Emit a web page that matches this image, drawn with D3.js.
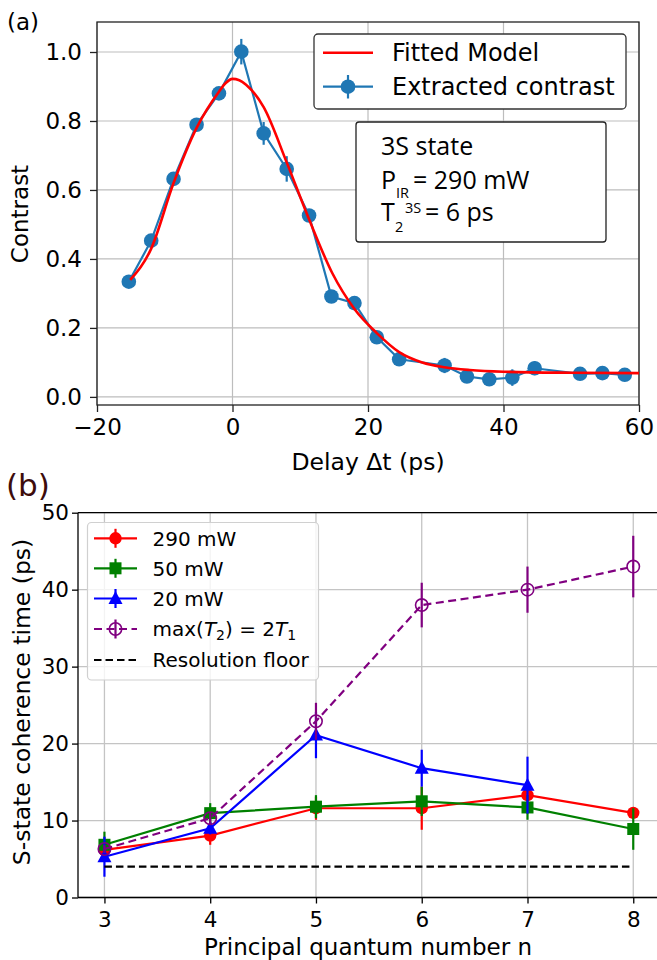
<!DOCTYPE html>
<html><head><meta charset="utf-8">
<script src="https://cdn.jsdelivr.net/npm/d3@7"></script>
<style>
body{margin:0;background:#fff}
svg{display:block;font-family:"DejaVu Sans",sans-serif}
text{fill:#000}
</style>
</head><body>
<svg id="chart" width="657" height="960"></svg>
<script>
// ---------- Panel (a) data ----------
const delayPs = [-15.3, -12.0, -8.7, -5.3, -2.0, 1.3, 4.6, 8.0, 11.3, 14.6, 18.0, 21.3, 24.6, 31.3, 34.6, 37.9, 41.3, 44.6, 51.3, 54.6, 57.9];
const contrast = [0.334, 0.453, 0.632, 0.789, 0.880, 1.001, 0.764, 0.661, 0.526, 0.291, 0.272, 0.173, 0.109, 0.091, 0.059, 0.051, 0.056, 0.083, 0.067, 0.069, 0.064];
const contrastErr = [0.010, 0.012, 0.012, 0.015, 0.015, 0.037, 0.033, 0.037, 0.015, 0.012, 0.012, 0.018, 0.012, 0.022, 0.012, 0.012, 0.024, 0.020, 0.015, 0.020, 0.018];
const fitDelay = [-15.1, -12.0, -8.7, -5.3, -2.0, -1.0, 0.0, 1.0, 2.0, 4.6, 8.0, 11.3, 14.7, 18.0, 21.3, 24.6, 28.0, 31.3, 35.0, 40.0, 50.0, 60.0];
const fitContrast = [0.339, 0.43, 0.62, 0.78, 0.885, 0.91, 0.922, 0.918, 0.905, 0.84, 0.68, 0.515, 0.36, 0.255, 0.185, 0.13, 0.10, 0.086, 0.078, 0.073, 0.070, 0.069];
const delayTicks = [-20, 0, 20, 40, 60];
const contrastTicks = [0.0, 0.2, 0.4, 0.6, 0.8, 1.0];

// ---------- Panel (b) data ----------
const nValues = [3, 4, 5, 6, 7, 8];
const t290 = [6.2, 8.05, 11.6, 11.6, 13.3, 11.0];
const t290Err = [0.6, 1.2, 1.5, 2.8, 0.7, 0.5];
const t50 = [6.85, 10.96, 11.8, 12.5, 11.7, 8.9];
const t50Err = [1.7, 1.3, 1.5, 1.9, 1.6, 2.7];
const nValues20 = [3, 4, 5, 6, 7];
const t20 = [5.3, 9.0, 21.1, 16.8, 14.6];
const t20Err = [2.6, 0.8, 3.0, 2.4, 3.7];
const tMax = [6.3, 10.3, 22.9, 38.0, 40.0, 43.0];
const tMaxErr = [0.5, 0.8, 2.4, 2.9, 3.0, 4.0];
const floorN = [3, 8];
const floorT = [4, 4];
const nTicks = [3, 4, 5, 6, 7, 8];
const timeTicks = [0, 10, 20, 30, 40, 50];

const svg = d3.select("#chart");

// ================= Panel (a) =================
const xa = d3.scaleLinear().domain([-20, 60]).range([97, 639]);
const ya = d3.scaleLinear().domain([-0.0235, 1.087]).range([405, 22]);
const ga = svg.append("g");

ga.selectAll(".gx").data(delayTicks).join("line")
  .attr("x1", d => xa(d)).attr("x2", d => xa(d)).attr("y1", 22).attr("y2", 405)
  .attr("stroke", "#bdbdbd").attr("stroke-width", 1.2);
ga.selectAll(".gy").data(contrastTicks).join("line")
  .attr("y1", d => ya(d)).attr("y2", d => ya(d)).attr("x1", 97).attr("x2", 639)
  .attr("stroke", "#bdbdbd").attr("stroke-width", 1.2);

const axA = ga.append("g").attr("transform", "translate(0,405)")
  .call(d3.axisBottom(xa).tickValues(delayTicks).tickSize(7).tickPadding(6).tickFormat(d3.format("d")));
const ayA = ga.append("g").attr("transform", "translate(97,0)")
  .call(d3.axisLeft(ya).tickValues(contrastTicks).tickSize(7).tickPadding(8).tickFormat(d3.format(".1f")));
[axA, ayA].forEach(a => {
  a.select(".domain").remove();
  a.selectAll("line").attr("stroke", "#222").attr("stroke-width", 1.3);
  a.selectAll("text").attr("font-size", 23).attr("font-family", "DejaVu Sans").attr("fill", "#000");
});
axA.selectAll("text").attr("dy", "0.75em");
ga.append("rect").attr("x", 97).attr("y", 22).attr("width", 542).attr("height", 383)
  .attr("fill", "none").attr("stroke", "#222").attr("stroke-width", 1.3);

const blue = "#1f77b4";
ga.append("path").datum(delayPs.map((d, i) => [d, contrast[i]]))
  .attr("d", d3.line().x(d => xa(d[0])).y(d => ya(d[1])))
  .attr("fill", "none").attr("stroke", blue).attr("stroke-width", 2.2);
ga.selectAll(".eb").data(delayPs).join("line")
  .attr("x1", d => xa(d)).attr("x2", d => xa(d))
  .attr("y1", (d, i) => ya(contrast[i] - contrastErr[i]))
  .attr("y2", (d, i) => ya(contrast[i] + contrastErr[i]))
  .attr("stroke", blue).attr("stroke-width", 2.2);
ga.selectAll(".pt").data(delayPs).join("circle")
  .attr("cx", d => xa(d)).attr("cy", (d, i) => ya(contrast[i])).attr("r", 7.3)
  .attr("fill", blue);
ga.append("path").datum(fitDelay.map((d, i) => [d, fitContrast[i]]))
  .attr("d", d3.line().curve(d3.curveMonotoneX).x(d => xa(d[0])).y(d => ya(d[1])))
  .attr("fill", "none").attr("stroke", "#ff0000").attr("stroke-width", 2.6);

ga.append("text").attr("x", 368).attr("y", 470).attr("text-anchor", "middle")
  .attr("font-size", 23.5).text("Delay Δt (ps)");
ga.append("text").attr("transform", "translate(28,214) rotate(-90)").attr("text-anchor", "middle")
  .attr("font-size", 23).text("Contrast");
ga.append("text").attr("x", 7).attr("y", 30).attr("font-size", 23).text("(a)");

// legend (a)
const la = ga.append("g");
la.append("rect").attr("x", 314).attr("y", 34).attr("width", 312).attr("height", 75).attr("rx", 4)
  .attr("fill", "#fff").attr("stroke", "#333").attr("stroke-width", 1.3);
la.append("line").attr("x1", 323).attr("x2", 373).attr("y1", 52.7).attr("y2", 52.7)
  .attr("stroke", "#ff0000").attr("stroke-width", 2.6);
la.append("line").attr("x1", 323).attr("x2", 373).attr("y1", 86.7).attr("y2", 86.7)
  .attr("stroke", blue).attr("stroke-width", 2.2);
la.append("line").attr("x1", 348).attr("x2", 348).attr("y1", 75).attr("y2", 98.5)
  .attr("stroke", blue).attr("stroke-width", 2.2);
la.append("circle").attr("cx", 348).attr("cy", 86.7).attr("r", 7.3).attr("fill", blue);
la.append("text").attr("x", 392).attr("y", 61).attr("font-size", 24).text("Fitted Model");
la.append("text").attr("x", 392).attr("y", 95).attr("font-size", 24).text("Extracted contrast");

// text box (a)
const tb = ga.append("g").style("font-family", "'Open Sans', 'Noto Sans', sans-serif");
tb.append("rect").attr("x", 356).attr("y", 122).attr("width", 250).attr("height", 120).attr("rx", 3)
  .attr("fill", "#fff").attr("stroke", "#222").attr("stroke-width", 1.3);
const big = 25, small = 14.5;
tb.append("text").attr("x", 381).attr("y", 155).attr("font-size", big).text("3S state");
tb.append("text").attr("x", 381).attr("y", 189).attr("font-size", big).text("P");
tb.append("text").attr("x", 396).attr("y", 198).attr("font-size", small).text("IR");
tb.append("text").attr("x", 413).attr("y", 189).attr("font-size", big).text("= 290 mW");
tb.append("text").attr("x", 381).attr("y", 221).attr("font-size", big).text("T");
tb.append("text").attr("x", 395).attr("y", 232).attr("font-size", small).text("2");
tb.append("text").attr("x", 405).attr("y", 213).attr("font-size", small).text("3S");
tb.append("text").attr("x", 425).attr("y", 221).attr("font-size", big).text("= 6 ps");

// ================= Panel (b) =================
const xb = d3.scaleLinear().domain([2.75, 8.25]).range([78, 659.7]);
const yb = d3.scaleLinear().domain([0, 50]).range([897.5, 512.7]);
const gb = svg.append("g");

gb.selectAll(".gx").data(nTicks).join("line")
  .attr("x1", d => xb(d)).attr("x2", d => xb(d)).attr("y1", 512.7).attr("y2", 897.5)
  .attr("stroke", "#c4c4c4").attr("stroke-width", 1.3);
gb.selectAll(".gy").data(timeTicks).join("line")
  .attr("y1", d => yb(d)).attr("y2", d => yb(d)).attr("x1", 78).attr("x2", 660)
  .attr("stroke", "#c4c4c4").attr("stroke-width", 1.3);

const axB = gb.append("g").attr("transform", "translate(0,897.5)")
  .call(d3.axisBottom(xb).tickValues(nTicks).tickSize(6).tickPadding(7).tickFormat(d3.format("d")));
const ayB = gb.append("g").attr("transform", "translate(78,0)")
  .call(d3.axisLeft(yb).tickValues(timeTicks).tickSize(6).tickPadding(3).tickFormat(d3.format("d")));
[axB, ayB].forEach(a => {
  a.select(".domain").remove();
  a.selectAll("line").attr("stroke", "#000").attr("stroke-width", 1.3);
  a.selectAll("text").attr("font-size", 21.5).attr("font-family", "DejaVu Sans").attr("fill", "#000");
});
axB.selectAll("text").attr("dy", "0.75em");
gb.append("line").attr("x1", 78).attr("x2", 78).attr("y1", 512.7).attr("y2", 897.5).attr("stroke", "#000").attr("stroke-width", 1.3);
gb.append("line").attr("x1", 78).attr("x2", 660).attr("y1", 512.7).attr("y2", 512.7).attr("stroke", "#000").attr("stroke-width", 1.3);
gb.append("line").attr("x1", 78).attr("x2", 660).attr("y1", 897.5).attr("y2", 897.5).attr("stroke", "#000").attr("stroke-width", 1.3);

function drawSeries(xs, ys, es, color, marker, dashed) {
  const g = gb.append("g");
  g.append("path").datum(xs.map((d, i) => [d, ys[i]]))
    .attr("d", d3.line().x(d => xb(d[0])).y(d => yb(d[1])))
    .attr("fill", "none").attr("stroke", color).attr("stroke-width", 2.2)
    .attr("stroke-dasharray", dashed ? "8,4.5" : null);
  g.selectAll(".e").data(xs).join("line")
    .attr("x1", d => xb(d)).attr("x2", d => xb(d))
    .attr("y1", (d, i) => yb(ys[i] - es[i])).attr("y2", (d, i) => yb(ys[i] + es[i]))
    .attr("stroke", color).attr("stroke-width", 2.2);
  xs.forEach((d, i) => drawMarker(g, xb(d), yb(ys[i]), color, marker));
}
function drawMarker(g, cx, cy, color, marker) {
  if (marker === "circle") g.append("circle").attr("cx", cx).attr("cy", cy).attr("r", 6.2).attr("fill", color);
  else if (marker === "square") g.append("rect").attr("x", cx - 6).attr("y", cy - 6).attr("width", 12).attr("height", 12).attr("fill", color);
  else if (marker === "triangle") g.append("path").attr("d", `M${cx},${cy - 7.5}L${cx + 7},${cy + 5.5}L${cx - 7},${cy + 5.5}Z`).attr("fill", color);
  else if (marker === "hollow") g.append("circle").attr("cx", cx).attr("cy", cy).attr("r", 6.2).attr("fill", "none").attr("stroke", color).attr("stroke-width", 1.6);
}
drawSeries(nValues, t290, t290Err, "#ff0000", "circle", false);
drawSeries(nValues, t50, t50Err, "#008000", "square", false);
drawSeries(nValues20, t20, t20Err, "#0000ff", "triangle", false);
drawSeries(nValues, tMax, tMaxErr, "#800080", "hollow", true);
gb.append("path").datum(floorN.map((d, i) => [d, floorT[i]]))
  .attr("d", d3.line().x(d => xb(d[0])).y(d => yb(d[1])))
  .attr("fill", "none").attr("stroke", "#000").attr("stroke-width", 2.3).attr("stroke-dasharray", "7.5,4");

gb.append("text").attr("x", 368).attr("y", 955).attr("text-anchor", "middle").attr("font-size", 23).text("Principal quantum number n");
gb.append("text").attr("transform", "translate(30,702) rotate(-90)").attr("text-anchor", "middle")
  .attr("font-size", 23.5).text("S-state coherence time (ps)");
gb.append("text").attr("x", 6).attr("y", 496).attr("font-size", 31).style("fill", "#3d0c0c").text("(b)");

// legend (b)
const lb = gb.append("g");
lb.append("rect").attr("x", 87.5).attr("y", 522.5).attr("width", 231).attr("height", 157.5).attr("rx", 4)
  .attr("fill", "#fff").attr("fill-opacity", 0.8).attr("stroke", "#d0d0d0").attr("stroke-width", 1.2);
const legItems = [
  {label: "290 mW", color: "#ff0000", marker: "circle", dashed: false, bar: true},
  {label: "50 mW", color: "#008000", marker: "square", dashed: false, bar: true},
  {label: "20 mW", color: "#0000ff", marker: "triangle", dashed: false, bar: true},
  {label: "max", color: "#800080", marker: "hollow", dashed: true, bar: true},
  {label: "Resolution floor", color: "#000", marker: null, dashed: true, bar: false}
];
const rowY = [538.3, 568.3, 598.5, 629, 660];
legItems.forEach((it, i) => {
  const y = rowY[i];
  lb.append("line").attr("x1", 94).attr("x2", 137).attr("y1", y).attr("y2", y)
    .attr("stroke", it.color).attr("stroke-width", 2.2).attr("stroke-dasharray", it.dashed ? (it.marker ? "8,4.5" : "7.5,4") : null);
  if (it.bar) lb.append("line").attr("x1", 115.5).attr("x2", 115.5).attr("y1", y - 9.5).attr("y2", y + 9.5)
    .attr("stroke", it.color).attr("stroke-width", 2.2);
  if (it.marker) drawMarker(lb, 115.5, y, it.color, it.marker);
  if (it.label !== "max") {
    lb.append("text").attr("x", 152.5).attr("y", y + 7.3).attr("font-size", 20).text(it.label);
  } else {
    const t = lb.append("text").attr("x", 152.5).attr("y", y + 7.3).attr("font-size", 20);
    t.append("tspan").text("max(");
    t.append("tspan").attr("font-style", "italic").text("T");
    t.append("tspan").attr("font-size", 14).attr("dy", 4).text("2");
    t.append("tspan").attr("dy", -4).text(") = 2");
    t.append("tspan").attr("font-style", "italic").text("T");
    t.append("tspan").attr("font-size", 14).attr("dy", 4).text("1");
  }
});
</script>
</body></html>
